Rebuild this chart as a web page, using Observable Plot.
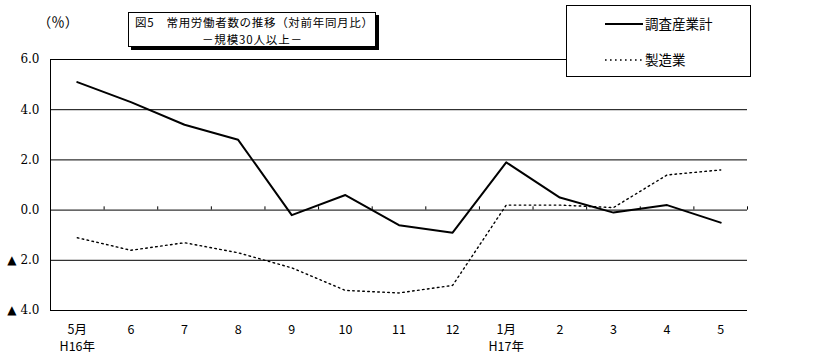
<!DOCTYPE html>
<html>
<head>
<meta charset="utf-8">
<script src="https://cdn.jsdelivr.net/npm/d3@7"></script>
<script src="https://cdn.jsdelivr.net/npm/@observablehq/plot@0.6"></script>
<style>
  html, body { margin: 0; padding: 0; background: #fff; }
  #chart { position: relative; width: 818px; height: 360px; }
</style>
</head>
<body>
<div id="chart"></div>
<script>
const months = ["5月\nH16年", "6", "7", "8", "9", "10", "11", "12", "1月\nH17年", "2", "3", "4", "5"];
const allIndustries = [5.1, 4.3, 3.4, 2.8, -0.2, 0.6, -0.6, -0.9, 1.9, 0.5, -0.1, 0.2, -0.5];
const manufacturing = [-1.1, -1.6, -1.3, -1.7, -2.3, -3.2, -3.3, -3.0, 0.2, 0.2, 0.1, 1.4, 1.6];
const yTicks = [6, 4, 2, 0, -2, -4];
const seriesNames = ["調査産業計", "製造業"];
const titleLines = ["図5　常用労働者数の推移（対前年同月比）", "－規模30人以上－"];
const unitLabel = "（％）";

const idx = months.map((_, i) => i);
const solidData = idx.map(i => ({i, v: allIndustries[i]}));
const dotData = idx.map(i => ({i, v: manufacturing[i]}));
const boundaries = idx.map(i => i + 0.5);

const yFmt = v => v < 0 ? "▲ " + Math.abs(v).toFixed(1) : v.toFixed(1);

const plot = Plot.plot({
  width: 818,
  height: 360,
  marginLeft: 50,
  marginRight: 71,
  marginTop: 59,
  marginBottom: 50,
  style: {background: "#fff", color: "#000"},
  x: {type: "linear", domain: [-0.5, 12.5], axis: null},
  y: {domain: [-4, 6], axis: null},
  marks: [
    Plot.ruleY(yTicks, {stroke: "#000", strokeWidth: 1}),
    Plot.ruleX([-0.5], {stroke: "#000", strokeWidth: 1}),
    Plot.ruleX(boundaries, {y1: 0, y2: 0.13, stroke: "#000", strokeWidth: 1}),
    Plot.text(yTicks, {y: d => d, frameAnchor: "left", dx: -11, textAnchor: "end", text: yFmt, fontSize: 12, fontFamily: "DejaVu Serif, serif", fill: "#000"}),
    Plot.text(idx, {x: d => d, frameAnchor: "bottom", lineAnchor: "top", dy: 11, text: i => months[i], fontSize: 12.5, fontFamily: "Noto Sans CJK JP, sans-serif", lineHeight: 1.4, fill: "#000"}),
    Plot.line(dotData, {x: "i", y: "v", stroke: "#000", strokeWidth: 1.4, strokeDasharray: "1.6,3.4"}),
    Plot.line(solidData, {x: "i", y: "v", stroke: "#000", strokeWidth: 2})
  ]
});
document.getElementById("chart").appendChild(plot);

// Annotations: unit label, title box, legend
const svg = d3.select(plot);
const jp = "Noto Sans CJK JP, sans-serif";
svg.append("text").attr("x", 58).attr("y", 27).attr("text-anchor", "middle")
  .attr("font-family", jp).attr("font-size", 13.5).attr("fill", "#000").text(unitLabel);

const tg = svg.append("g");
tg.append("rect").attr("x", 131).attr("y", 15).attr("width", 248).attr("height", 35).attr("fill", "#000");
tg.append("rect").attr("x", 128.5).attr("y", 12.5).attr("width", 247).attr("height", 34).attr("fill", "#fff").attr("stroke", "#000");
tg.append("text").attr("x", 254).attr("y", 27).attr("text-anchor", "middle").attr("font-family", jp)
  .attr("font-size", 11.5).attr("textLength", 238).attr("lengthAdjust", "spacing").attr("fill", "#000").text(titleLines[0]);
tg.append("text").attr("x", 252).attr("y", 44).attr("text-anchor", "middle").attr("font-family", jp)
  .attr("font-size", 11.5).attr("textLength", 100).attr("lengthAdjust", "spacing").attr("fill", "#000").text(titleLines[1]);

const lg = svg.append("g");
lg.append("rect").attr("x", 566.5).attr("y", 5.5).attr("width", 184).attr("height", 71).attr("fill", "#fff").attr("stroke", "#000");
lg.append("line").attr("x1", 605).attr("x2", 643).attr("y1", 24).attr("y2", 24).attr("stroke", "#000").attr("stroke-width", 2);
lg.append("line").attr("x1", 605).attr("x2", 643).attr("y1", 60).attr("y2", 60).attr("stroke", "#000").attr("stroke-width", 1.4).attr("stroke-dasharray", "1.6,3.4");
lg.append("text").attr("x", 645).attr("y", 29).attr("text-anchor", "start").attr("font-family", jp).attr("font-size", 13.5).attr("fill", "#000").text(seriesNames[0]);
lg.append("text").attr("x", 645).attr("y", 65).attr("text-anchor", "start").attr("font-family", jp).attr("font-size", 13.5).attr("fill", "#000").text(seriesNames[1]);
</script>
</body>
</html>
